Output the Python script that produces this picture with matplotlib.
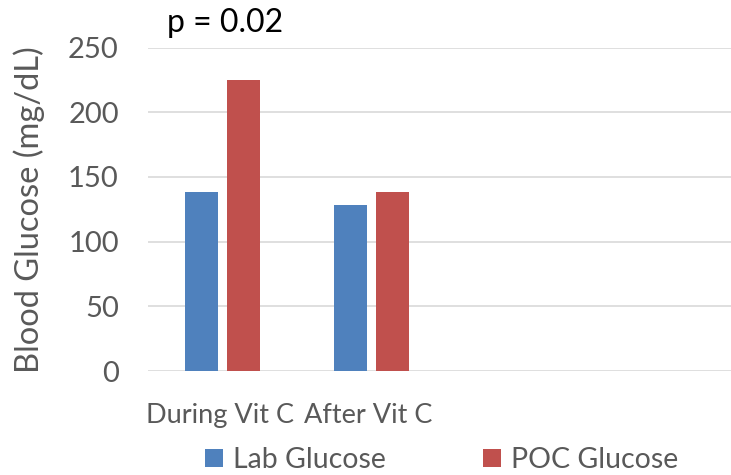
import matplotlib
matplotlib.use('Agg')
import matplotlib.pyplot as plt
import matplotlib.transforms as mtransforms
import numpy as np

categories = ['During Vit C', 'After Vit C']
lab_glucose = [138, 128]
poc_glucose = [225, 138]
yticks = [0, 50, 100, 150, 200, 250]

plt.rcParams['font.family'] = ['Lato', 'DejaVu Sans']

fig = plt.figure(figsize=(7.31, 4.75), dpi=100, facecolor='white')
ax = fig.add_axes([148 / 731, 1 - 371 / 475, 583 / 731, 323.5 / 475])

x = np.arange(len(categories))
w = 0.224
ax.bar(x - 0.142, lab_glucose, w, color='#4F81BD', label='Lab Glucose', zorder=3)
ax.bar(x + 0.142, poc_glucose, w, color='#C0504D', label='POC Glucose', zorder=3)

ax.set_xlim(-0.5, 3.415)
ax.set_ylim(0, 250)
ax.set_yticks(yticks)
ax.set_xticks(x)
ax.set_xticklabels(categories)
for s in ax.spines.values():
    s.set_visible(False)
ax.grid(axis='y', color='#D9D9D9', lw=1.2, zorder=0)
ax.tick_params(length=0, colors='#595959')
ax.tick_params(axis='y', pad=21, labelsize=21)
ax.tick_params(axis='x', pad=23, labelsize=19.5)
# category labels sit a bit left of the group centres in the original
for lbl, dx in zip(ax.get_xticklabels(), [-2, -3]):
    lbl.set_transform(lbl.get_transform() + mtransforms.ScaledTranslation(dx / 100, 0, fig.dpi_scale_trans))

ax.set_ylabel('Blood Glucose (mg/dL)', fontsize=23.5, color='#595959')
ax.yaxis.set_label_coords(-0.176, 0.5)

fig.text(167 / 731, 1 - 32 / 475, 'p = 0.02', fontsize=23, color='black', va='baseline')

fig.legend(loc='center', bbox_to_anchor=(441.5 / 731, 1 - 460 / 475), ncol=2,
           frameon=False, fontsize=20.5, labelcolor='#595959',
           handlelength=0.63, handleheight=0.63, handletextpad=0.35, columnspacing=3.4)

fig.savefig('out.png', dpi=100)
